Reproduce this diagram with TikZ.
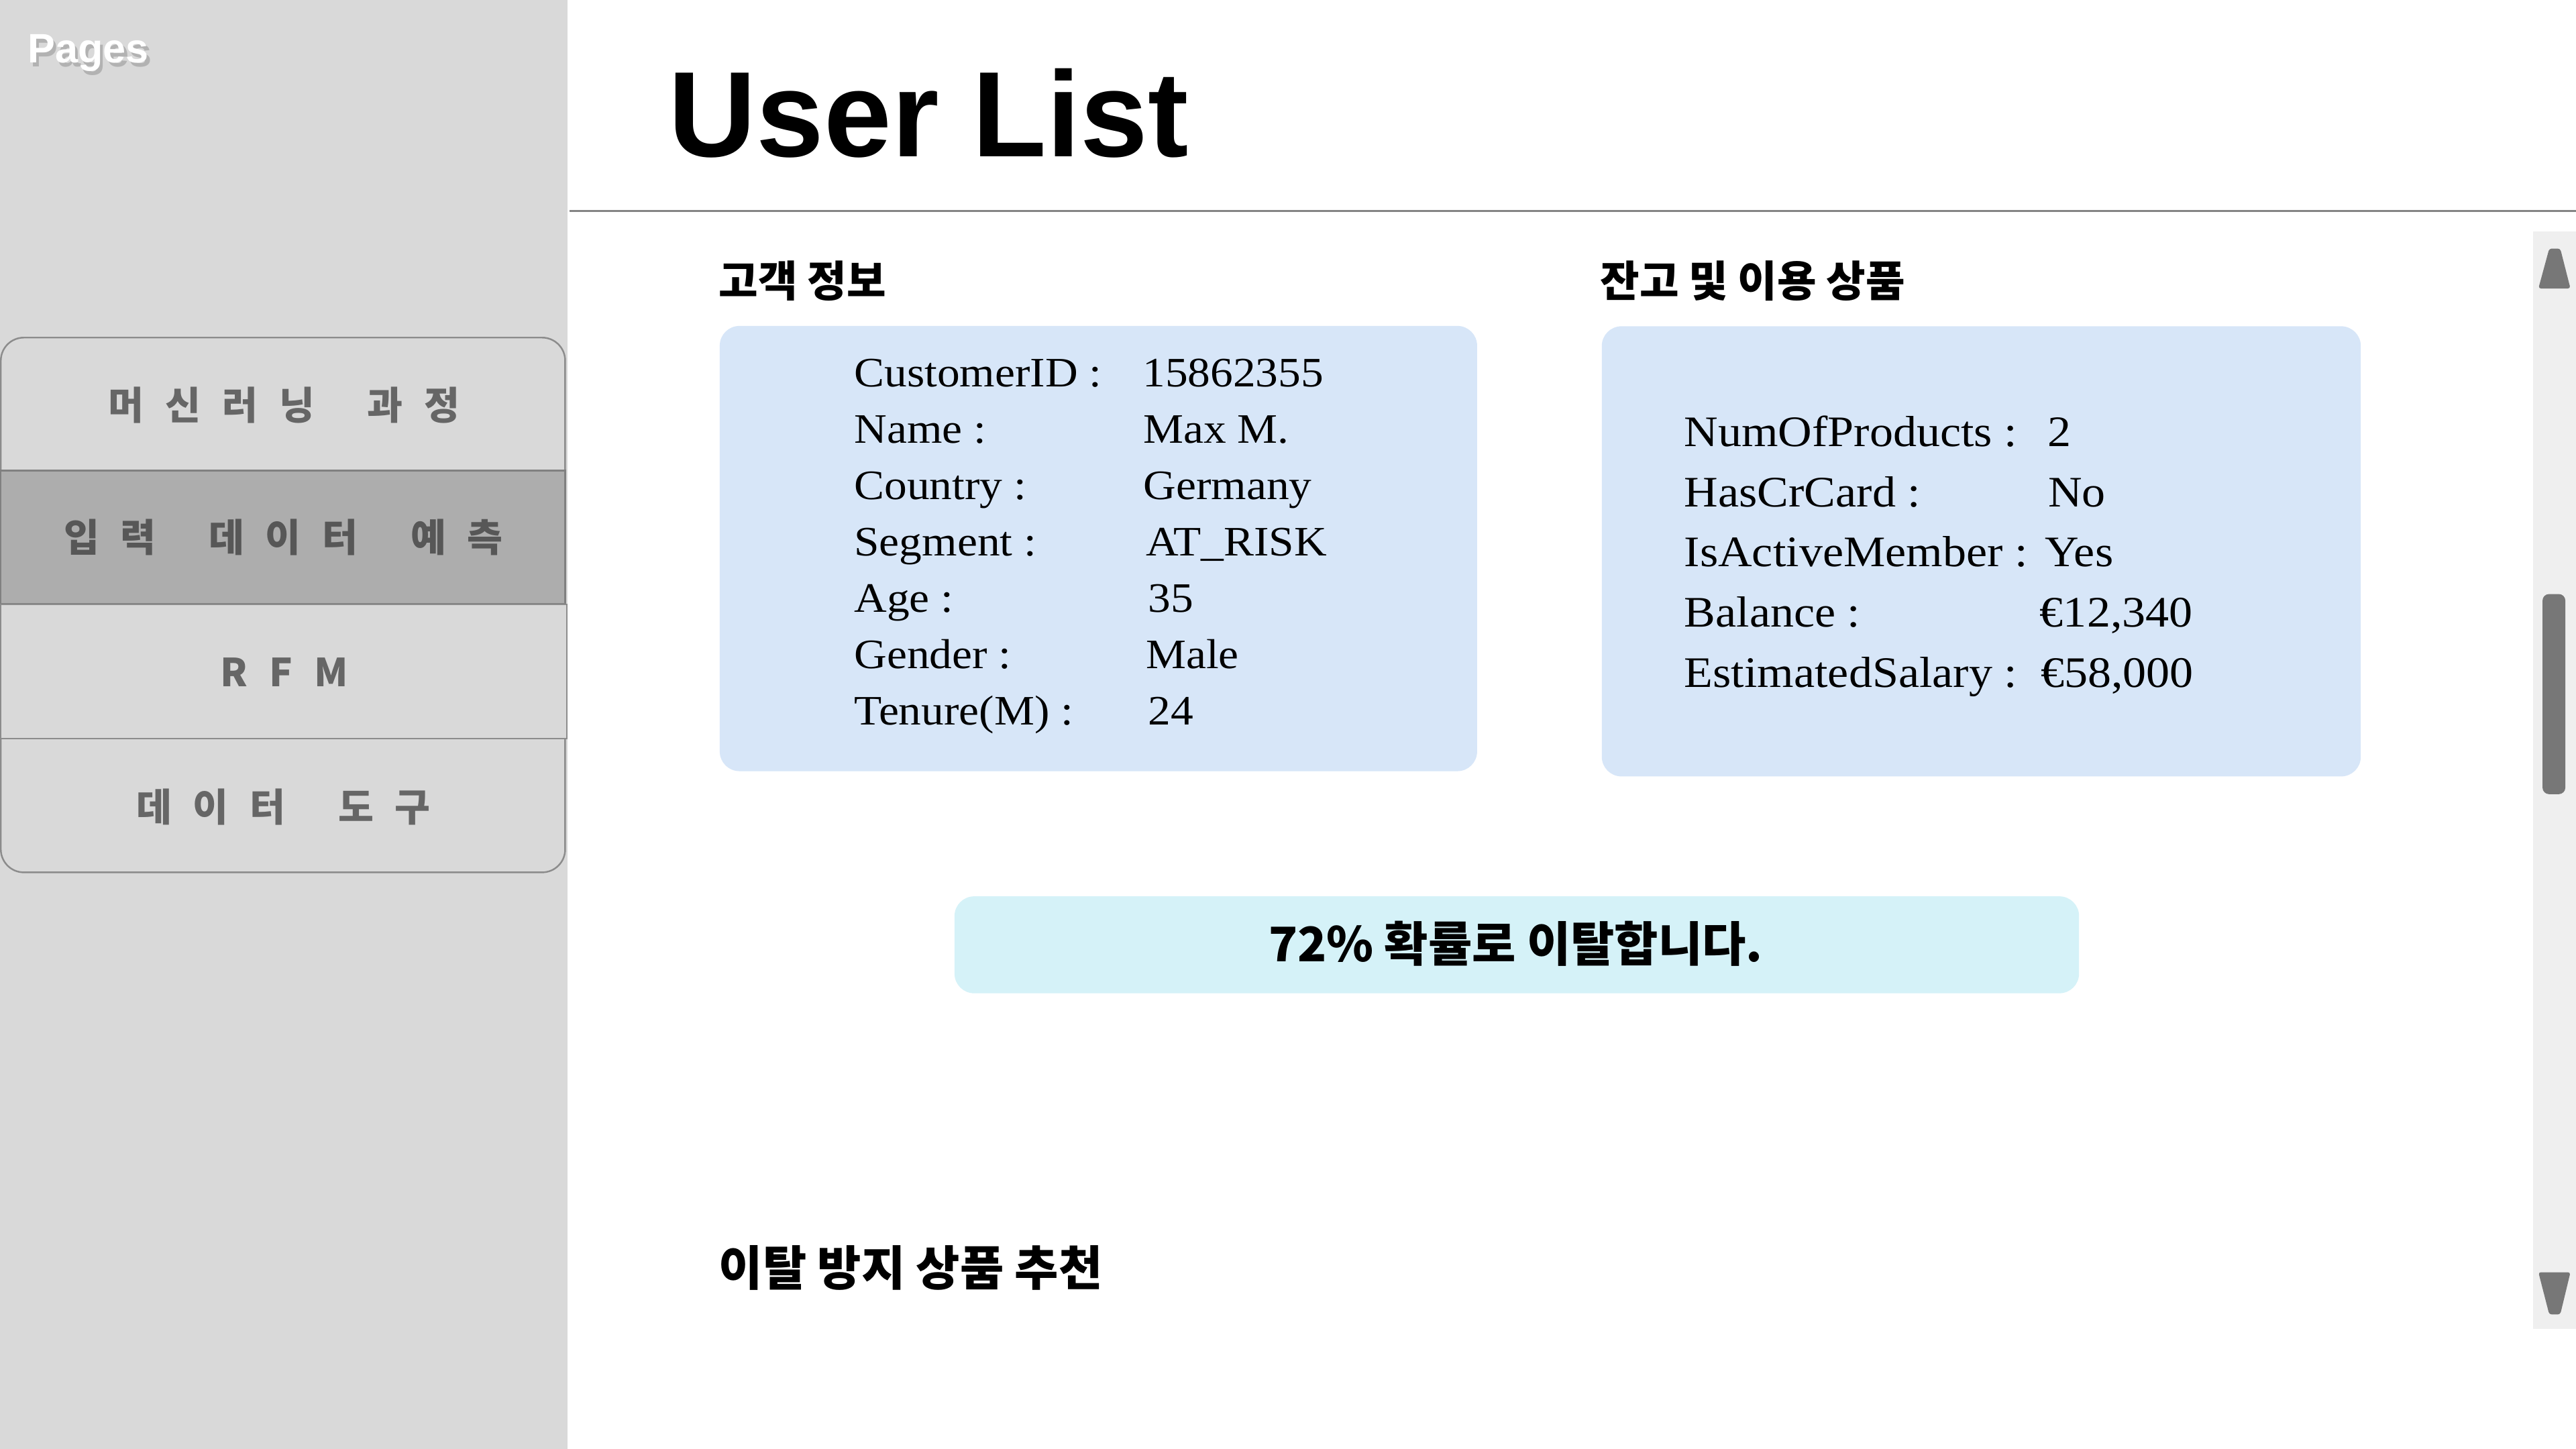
\documentclass[tikz,border=0pt]{standalone}
\usepackage{fontspec}
\setmainfont{Liberation Serif}
\newfontfamily\hsans{Liberation Sans}
\newfontfamily\krfont{Noto Sans CJK KR}
\newfontfamily\cardfont{Liberation Serif}[FakeStretch=1.08]
\newcommand\gl{\hspace{13pt}}
\newcommand\gw{\hspace{32pt}}
\definecolor{sidebar}{HTML}{D9D9D9}
\definecolor{activeitem}{HTML}{ADADAD}
\definecolor{menuline}{HTML}{8C8C8C}
\definecolor{menutext}{HTML}{666666}
\definecolor{cardblue}{HTML}{D7E6F8}
\definecolor{bannercyan}{HTML}{D5F2F8}
\definecolor{track}{HTML}{EFEFEF}
\definecolor{thumb}{HTML}{777777}
\definecolor{rule}{HTML}{858585}
\tikzset{
  menubox/.style={draw=menuline, line width=1pt, fill=sidebar, inner sep=0pt, outer sep=0pt, minimum width=343.5pt},
  menutxt/.style={anchor=base, inner sep=0pt, text=menutext, font=\krfont\bfseries\fontsize{23.5}{26}\selectfont},
  card/.style={fill=cardblue, draw=none, rounded corners=12pt, inner sep=0pt, outer sep=0pt},
  lblL/.style={anchor=base west, inner sep=0pt, font=\cardfont\fontsize{25.5}{30}\selectfont},
  lblR/.style={anchor=base west, inner sep=0pt, font=\cardfont\fontsize{26.5}{30}\selectfont},
  heading/.style={anchor=base west, inner sep=0pt, font=\krfont\bfseries\fontsize{26}{30}\selectfont},
}
\begin{document}
\begin{tikzpicture}[x=1pt,y=-1pt]
\useasboundingbox (0,0) rectangle (1568,882);
\fill[white] (0,0) rectangle (1568,882);
% sidebar
\fill[sidebar] (0,0) rectangle (345.5,882);
\node[anchor=base west, inner sep=0pt, text=black!45, opacity=0.5, font=\hsans\bfseries\fontsize{25}{28}\selectfont] (pagesshadow) at (18.5,40.8) {Pages};
\node[anchor=base west, inner sep=0pt, text=white, font=\hsans\bfseries\fontsize{25}{28}\selectfont] (pages) at (16.8,38.3) {Pages};
% menu items
\node[menubox, rounded corners=14pt, minimum height=100pt, anchor=north west] (m1box) at (0.5,205.5) {};
\node[menubox, rounded corners=14pt, minimum height=100pt, anchor=south west] (m4box) at (0.5,531) {};
\node[menubox, fill=activeitem, draw=black!50, minimum height=81pt, anchor=north west] (m2box) at (0.5,286.5) {};
\node[menubox, minimum height=81.5pt, minimum width=344.5pt, anchor=north west] (m3box) at (0.5,368) {};
\node[menutxt] (m1) at (173,255.5) {머\gl 신\gl 러\gl 닝\gw 과\gl 정};
\node[menutxt, text=black!66] (m2) at (172.5,336) {입\gl 력\gw 데\gl 이\gl 터\gw 예\gl 측};
\node[menutxt] (m3) at (173,418) {R\gl F\gl M};
\node[menutxt] (m4) at (172.5,500) {데\gl 이\gl 터\gw 도\gl 구};
% header
\node[anchor=base west, inner sep=0pt, font=\hsans\bfseries\fontsize{74}{80}\selectfont] (title) at (406.8,95.2) {User List};
\coordinate (ruleA) at (346.5,128.5);
\coordinate (ruleB) at (1568,128.5);
\draw[rule, line width=1.2pt] (ruleA) -- (ruleB);
% section headings
\node[heading] (h1) at (437.5,180.5) {고객 정보};
\node[heading] (h2) at (974,180.5) {잔고 및 이용 상품};
\node[heading, font=\krfont\bfseries\fontsize{29}{32}\selectfont] (h3) at (437.5,782.5) {이탈 방지 상품 추천};
% cards
\node[card, minimum width=461pt, minimum height=271pt, anchor=north west] (cardL) at (438.1,198.4) {};
\node[card, minimum width=462pt, minimum height=274pt, anchor=north west] (cardR) at (975,198.6) {};
% left card text
\node[lblL] (a1) at (519.8,235.6) {CustomerID :};
\node[lblL] (a2) at (519.8,269.9) {Name :};
\node[lblL] (a3) at (519.8,304.1) {Country :};
\node[lblL] (a4) at (519.8,338.4) {Segment :};
\node[lblL] (a5) at (519.8,372.7) {Age :};
\node[lblL] (a6) at (519.8,406.9) {Gender :};
\node[lblL] (a7) at (519.8,441.2) {Tenure(M) :};
\node[lblL] (v1) at (695.3,235.6) {15862355};
\node[lblL] (v2) at (695.8,269.9) {Max M.};
\node[lblL] (v3) at (695.8,304.1) {Germany};
\node[lblL] (v4) at (697.3,338.4) {AT\_RISK};
\node[lblL] (v5) at (698.8,372.7) {35};
\node[lblL] (v6) at (697.3,406.9) {Male};
\node[lblL] (v7) at (698.8,441.2) {24};
% right card text
\node[lblR] (b1) at (1025,271.6) {NumOfProducts :};
\node[lblR] (b2) at (1025,308.3) {HasCrCard :};
\node[lblR] (b3) at (1025,345.0) {IsActiveMember :};
\node[lblR] (b4) at (1025,381.7) {Balance :};
\node[lblR] (b5) at (1025,418.4) {EstimatedSalary :};
\node[lblR] (w1) at (1246.2,271.6) {2};
\node[lblR] (w2) at (1246.5,308.3) {No};
\node[lblR] (w3) at (1244.5,345.0) {Yes};
\node[lblR] (w4) at (1241.5,381.7) {€12,340};
\node[lblR] (w5) at (1242.0,418.4) {€58,000};
% banner
\node[fill=bannercyan, rounded corners=12pt, inner sep=0pt, minimum width=684.5pt, minimum height=59pt, anchor=north west] (banner) at (580.8,545.4) {};
\node[anchor=base, inner sep=0pt, font=\krfont\bfseries\fontsize{29}{32}\selectfont] (bannertxt) at (922.6,585.5) {72\% 확률로 이탈합니다.};
% scrollbar
\fill[track] (1542,141) rectangle (1568,809);
\fill[thumb, rounded corners=1.5pt] (1551.7,151.3) -- (1558.4,151.3) -- (1564.6,175.6) -- (1545.1,175.6) -- cycle;
\fill[thumb, rounded corners=4pt] (1547.6,361.6) rectangle (1561.5,483.4);
\fill[thumb, rounded corners=1.5pt] (1545.1,774.4) -- (1564.6,774.4) -- (1558.4,800.1) -- (1551.7,800.1) -- cycle;
\end{tikzpicture}
\end{document}
